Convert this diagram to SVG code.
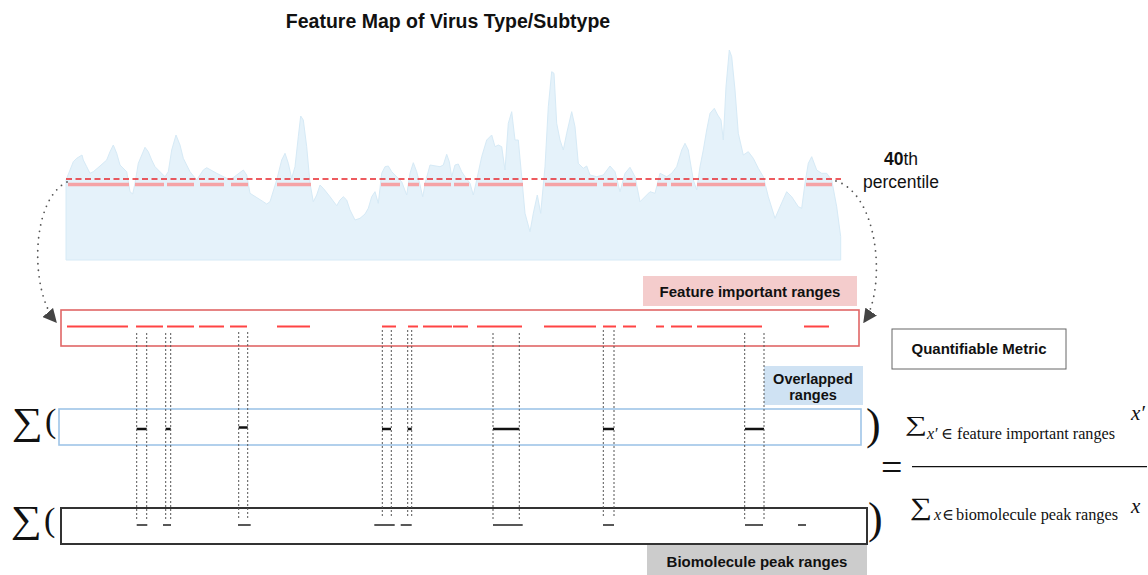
<svg xmlns="http://www.w3.org/2000/svg" width="1148" height="575" viewBox="0 0 1148 575">
<style>
.t{font-family:"Liberation Sans",Arial,sans-serif;font-weight:bold;font-size:15px;fill:#111;text-anchor:middle}
.m{font-family:"Liberation Serif","DejaVu Serif",serif;fill:#111}
.vd{stroke:#555;stroke-width:1;stroke-dasharray:2 2;fill:none}
.ov{stroke:#111;stroke-width:2.5}
.pk{stroke:#222;stroke-width:1.5}
.fr{stroke:#ff4444;stroke-width:2}
.pr{stroke:#f5a3a6;stroke-width:3.5}
.dot{stroke:#555;stroke-width:1.8;stroke-linecap:round;stroke-dasharray:0 6.5;fill:none}
</style>
<defs>
<marker id="ah" viewBox="0 0 10 10" refX="9" refY="5" markerWidth="14" markerHeight="14" markerUnits="userSpaceOnUse" orient="auto">
<path d="M0,0 L10,5 L0,10 Z" fill="#444"/>
</marker>
</defs>
<rect width="1148" height="575" fill="#fff"/>

<g id="title">
<text x="448" y="28" class="t" style="font-size:19.5px">Feature Map of Virus Type/Subtype</text>
</g>

<g id="feature-map">
<path d="M66,260 L66,180 70,170 73.3,161.7 76.7,158.3 82,155 83.3,160 86.7,166.7 90,173.3 93.3,171.7 100,166 106.7,160 110,151.7 113.3,145 116.7,153.3 120,165 126.7,171.7 130,191.7 132.7,194 135,183.3 138.3,163.3 145,147.3 148.3,151.7 151.7,160 155,166.7 165,176.7 168.3,171.7 171.7,150 176,135 180,145 183.3,158.3 190,171.7 196.7,180 203.3,170 206.7,167.7 216.7,173.3 226.7,178.3 230,180 236.7,175 243.3,170 246.7,175 250,193.3 263.3,201.7 266.7,204 270,201.7 276.7,180 281.7,160 285,153.3 288.3,163.3 291.7,178.3 295,166.7 298.3,136.7 300.7,116 303.3,120 306.7,146.7 310,183.3 313.3,201.7 316.7,195 320,185 323.3,188.3 330,196.7 336.7,205.7 340,200 343.3,196.7 346.7,200 350,210 355,220 360,218.3 365,214 368.3,208.3 371.7,196.7 375,191.7 378.3,203.3 381.7,173.3 385,166.7 388.3,166 391.7,171.7 401.7,181.7 406.7,195 410,173.3 413.3,162.7 416.7,171.7 420,185 422.7,196.7 426,180 430,165 440,166.7 443.3,165 446.7,154.3 449.3,161.7 451.7,176.7 455,165 458.3,164 461.7,171.7 465,176.7 470,183.3 473.3,195 476.7,180 481.7,156.7 486.7,140 491.7,135 495,146.7 498.3,145 501.7,146.7 505,170 508.3,123.3 511.7,111.7 515,140 518.3,140 521.7,176.7 525,213.3 530,231.7 533.3,213.3 537.3,195 540.7,213.3 545,166.7 548.3,106.7 551.7,71.7 554,73.3 556.7,123.3 560,140 563.3,150 566.7,133.3 571.7,111.7 575,126.7 578.3,163.3 583.3,168.3 586.7,166 590,175 596.7,176.7 603.3,175 610,166 615,171.7 620,191.7 625,173.3 630,167.3 635,176.7 640,201.7 646.7,195 650,191.7 655,193.3 660,173.3 666.7,176.7 671.7,173.3 676.7,166.7 681.7,150 685,143.3 688.3,150 693.3,180 696.7,190 700,166.7 703.3,150 706.7,130 710,113.3 714.3,108.3 717.7,115 721,120 723.3,140 726,86.7 729.3,50 731.7,56.7 735,90 738.3,133.3 743.3,155 748.3,151.7 753.3,158.3 758.3,168.3 763.3,176.7 768.3,196.7 775,218.3 780,206.7 786.7,191.7 791.7,196.7 798.3,206.7 801.7,208.3 805,183.3 808.3,163.3 811.7,156.7 816.7,170 821.7,173.3 826.7,173.3 831.7,180 836.7,206.7 840.7,236.7 840.7,260 Z" fill="#e5f2fa" stroke="#d6eaf6" stroke-width="1"/>
<g class="pr">
<path d="M68,184.5H129M135,184.5H164M167,184.5H194M200,184.5H224M231,184.5H248M277,184.5H311M381,184.5H400M408,184.5H419M424,184.5H451M454,184.5H469M478,184.5H523M545,184.5H597M603,184.5H617M623,184.5H636M657,184.5H667M671,184.5H692M697,184.5H765M806,184.5H832"/>
</g>
<line x1="66" y1="179" x2="841" y2="179" stroke="#e8262b" stroke-width="1.5" stroke-dasharray="6 3.5"/>
</g>

<g id="percentile-label">
<text x="901" y="165" style="font-family:'Liberation Sans',Arial,sans-serif;font-size:17.5px;fill:#111" text-anchor="middle"><tspan font-weight="bold">40</tspan>th</text>
<text x="901" y="188" style="font-family:'Liberation Sans',Arial,sans-serif;font-size:17.5px;fill:#111" text-anchor="middle">percentile</text>
</g>

<g id="feature-label">
<rect x="643" y="276" width="214" height="30" fill="#f4cccc"/>
<text x="750" y="297" class="t">Feature important ranges</text>
</g>

<g id="feature-box">
<rect x="61" y="310" width="798" height="36" fill="none" stroke="#e06666" stroke-width="1.6"/>
<path class="fr" d="M67,326.5H128M136,326.5H163M167,326.5H194M199,326.5H224M230,326.5H247M277,326.5H310M382,326.5H396M408,326.5H418M423,326.5H452M453,326.5H468M477,326.5H522M544,326.5H596M603,326.5H616M623,326.5H636M656,326.5H664M671,326.5H692M697,326.5H762M804,326.5H829"/>
</g>

<g id="metric-box">
<rect x="892" y="329" width="174" height="40" fill="#fff" stroke="#666" stroke-width="1"/>
<text x="979" y="354" class="t">Quantifiable Metric</text>
</g>

<g id="overlap-label">
<rect x="764" y="366" width="99" height="39" fill="#cfe2f3"/>
<text x="813" y="384" class="t" style="font-size:14.5px">Overlapped</text>
<text x="813" y="400" class="t" style="font-size:14.5px">ranges</text>
</g>

<g id="overlap-box">
<text x="12" y="434" class="m" style="font-size:38px" textLength="31" lengthAdjust="spacingAndGlyphs">∑</text>
<text x="45" y="432" class="m" style="font-size:34px">(</text>
<rect x="59" y="409" width="802" height="36" fill="none" stroke="#9fc5e8" stroke-width="1.6"/>
<path class="ov" d="M136.7,429H146.7M165.7,429H170.7M238.7,427.5H247.7M382,429H391M407.7,429H411.7M493,429H519.3M603,429H614M745,429H764"/>
<text x="866" y="439" class="m" style="font-size:44px">)</text>
</g>

<g id="peak-box">
<text x="11" y="532" class="m" style="font-size:38px" textLength="31" lengthAdjust="spacingAndGlyphs">∑</text>
<text x="44" y="531" class="m" style="font-size:34px">(</text>
<rect x="61" y="508" width="806" height="36" fill="none" stroke="#333" stroke-width="2"/>
<path class="pk" d="M136.7,525H147.3M163,525H171M238,525H250.7M374.3,525H394.7M400.7,525H411.7M493,525H522.7M603,525H614M745,525H763M798,525H806"/>
<text x="868" y="533" class="m" style="font-size:44px">)</text>
</g>

<g id="peak-label">
<rect x="647" y="545" width="220" height="30" fill="#cccccc"/>
<text x="757" y="567" class="t">Biomolecule peak ranges</text>
</g>

<g id="formula">
<text x="881" y="480" class="m" style="font-size:38px">=</text>
<line x1="912" y1="466.7" x2="1147" y2="466.7" stroke="#111" stroke-width="1.2"/>
<text x="905" y="431" class="m" style="font-size:21px" textLength="22" lengthAdjust="spacingAndGlyphs">∑</text>
<text y="438.5" class="m" style="font-size:16px"><tspan x="927" font-style="italic">x′</tspan><tspan x="941">∈</tspan><tspan x="957" textLength="158" lengthAdjust="spacingAndGlyphs">feature important ranges</tspan></text>
<text x="1131" y="420" class="m" style="font-size:21px;font-style:italic">x′</text>
<text x="910" y="515" class="m" style="font-size:25px" textLength="22" lengthAdjust="spacingAndGlyphs">∑</text>
<text y="520" class="m" style="font-size:16px"><tspan x="934" font-style="italic">x</tspan><tspan x="942">∈</tspan><tspan x="956" textLength="162" lengthAdjust="spacingAndGlyphs">biomolecule peak ranges</tspan></text>
<text x="1131" y="513" class="m" style="font-size:21px;font-style:italic">x</text>
</g>

<g id="connectors">
<path class="dot" d="M67,182 C30,200 30,292 56,322" marker-end="url(#ah)"/>
<path class="dot" d="M836,181 C880,195 886,290 864,322" marker-end="url(#ah)"/>
<path class="vd" d="M136.7,333V520M146.7,333V520M165.7,333V520M170.7,333V520M238.7,332V520M247.7,332V520M382.3,330V517M391.3,330V517M407.7,330V517M411.7,330V517M493,333V520M519.3,333V520M603.3,330V517M614,330V517M744.7,333V520M764,333V520"/>
</g>
</svg>
